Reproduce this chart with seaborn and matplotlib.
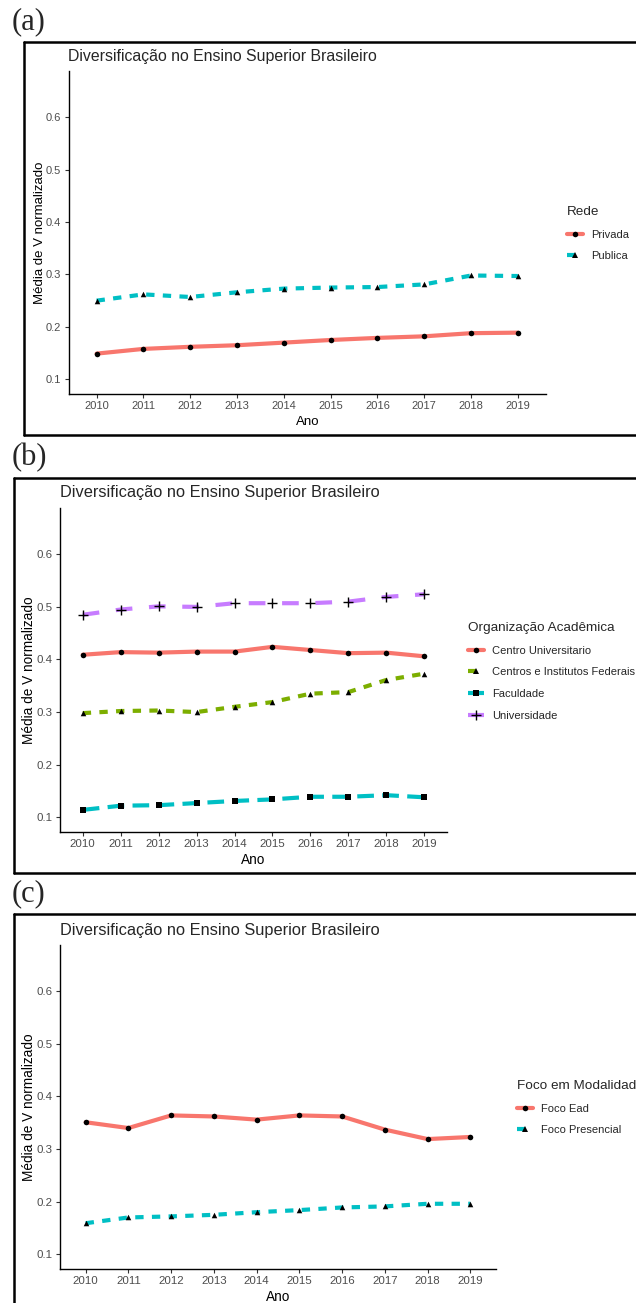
import matplotlib
matplotlib.use("Agg")
import matplotlib.pyplot as plt
import pandas as pd
import seaborn as sns
from matplotlib.lines import Line2D
from matplotlib.legend_handler import HandlerTuple

# ---------------------------------------------------------------- data
anos = [2010, 2011, 2012, 2013, 2014, 2015, 2016, 2017, 2018, 2019]

rede_categorias = ["Privada", "Publica"]
rede_privada = [0.149, 0.158, 0.162, 0.165, 0.170, 0.175, 0.179, 0.182, 0.188, 0.189]
rede_publica = [0.250, 0.262, 0.257, 0.266, 0.273, 0.275, 0.276, 0.281, 0.298, 0.297]

org_categorias = ["Centro Universitario", "Centros e Institutos Federais",
                  "Faculdade", "Universidade"]
org_centro_univ = [0.409, 0.414, 0.413, 0.415, 0.415, 0.424, 0.418, 0.412, 0.413, 0.406]
org_centros_fed = [0.298, 0.302, 0.303, 0.300, 0.310, 0.319, 0.335, 0.338, 0.361, 0.373]
org_faculdade = [0.114, 0.122, 0.123, 0.127, 0.131, 0.134, 0.139, 0.139, 0.142, 0.138]
org_universidade = [0.485, 0.495, 0.501, 0.500, 0.507, 0.507, 0.507, 0.510, 0.519, 0.524]

foco_categorias = ["Foco Ead", "Foco Presencial"]
foco_ead = [0.351, 0.340, 0.364, 0.362, 0.356, 0.364, 0.362, 0.337, 0.319, 0.323]
foco_presencial = [0.159, 0.170, 0.172, 0.175, 0.180, 0.184, 0.189, 0.191, 0.196, 0.196]

y_ticks = [0.1, 0.2, 0.3, 0.4, 0.5, 0.6]

titulo = "Diversificação no Ensino Superior Brasileiro"
rotulo_x = "Ano"
rotulo_y = "Média de V normalizado"

# ---------------------------------------------------------------- style
W, H = 636, 1303
DPI = 100
sns.set_theme(style="white")
plt.rcParams["font.family"] = ["Liberation Sans", "DejaVu Sans"]

HUE2 = ["#F8766D", "#00BFC4"]
HUE4 = ["#F8766D", "#7CAE00", "#00BFC4", "#C77CFF"]
DASHES = ["", (2, 2), (4, 2), (4, 4)]
MARKERS = ["o", "^", "s", "+"]
LW = 3.0

fig = plt.figure(figsize=(W / DPI, H / DPI), dpi=DPI)


def frac(l, t, r, b):
    return [l / W, 1 - b / H, (r - l) / W, (b - t) / H]


def long_df(categorias, series, nome):
    partes = []
    for cat, vals in zip(categorias, series):
        partes.append(pd.DataFrame({"Ano": anos, "V": vals, nome: cat}))
    return pd.concat(partes, ignore_index=True)


def moldura(bl, bt, bb):
    """Black frame around a panel (right edge runs off the page)."""
    kw = dict(transform=fig.transFigure, color="black", lw=1.8)
    fig.add_artist(Line2D([bl / W, 1.02], [1 - bt / H, 1 - bt / H], **kw))
    fig.add_artist(Line2D([bl / W, bl / W], [1 - bt / H, 1 - min(bb, H + 5) / H], **kw))
    if bb < H:
        fig.add_artist(Line2D([bl / W, 1.02], [1 - bb / H, 1 - bb / H], **kw))


def painel(box, letra, rect, df, nome, categorias, cores, leg_xy, ylab_x, k=1.0):
    l, t, r, b = rect
    bl, bt, bb = box
    moldura(bl, bt, bb)
    fig.text(12 / W, 1 - (bt - 20) / H, letra, family="Liberation Serif",
             fontsize=22, ha="left", va="center")

    ax = fig.add_axes(frac(l, t, r, b))
    n = len(categorias)
    dashes = dict(zip(categorias, DASHES[:n]))
    palette = dict(zip(categorias, cores))
    sns.lineplot(data=df, x="Ano", y="V", hue=nome, style=nome,
                 hue_order=categorias, style_order=categorias,
                 palette=palette, dashes=dashes, linewidth=LW,
                 errorbar=None, legend=False, ax=ax)
    for cat, mk in zip(categorias, MARKERS[:n]):
        sub = df[df[nome] == cat]
        if mk == "+":
            sns.scatterplot(data=sub, x="Ano", y="V", marker=mk, color="black",
                            s=55, linewidth=1.0, legend=False, ax=ax, zorder=5)
        else:
            sns.scatterplot(data=sub, x="Ano", y="V", marker=mk, color="black",
                            s=16 if mk != "s" else 14, linewidth=0,
                            legend=False, ax=ax, zorder=5)

    ax.set_xlim(2009.4, 2019.6)
    ax.set_ylim(0.072, 0.688)
    ax.set_xticks(anos)
    ax.set_xticklabels([str(a) for a in anos])
    ax.set_yticks(y_ticks)
    ax.set_yticklabels([f"{v:.1f}" for v in y_ticks])
    for side in ("top", "right"):
        ax.spines[side].set_visible(False)
    for side in ("left", "bottom"):
        ax.spines[side].set_color("black")
        ax.spines[side].set_linewidth(1.0)
    ax.tick_params(axis="both", which="major", direction="out", length=3,
                   width=0.8, color="#333333", labelcolor="#4D4D4D",
                   labelsize=8 * k, pad=2.2, bottom=True, left=True,
                   top=False, right=False)
    ax.grid(False)
    ax.set_facecolor("white")

    ax.set_xlabel(rotulo_x, fontsize=9.5 * k, color="black")
    ax.set_ylabel(rotulo_y, fontsize=9.5 * k, color="black")
    ax.xaxis.set_label_coords(0.5, -28 / (b - t))
    ax.xaxis.label.set_va("center")
    ax.yaxis.set_label_coords(-(l - ylab_x) / (r - l), 0.5)
    ax.yaxis.label.set_va("center")

    fig.text(l / W, 1 - (t - 15) / H, titulo, fontsize=11.4 * k,
             ha="left", va="center")

    handles = []
    for c, d, mk in zip(cores, DASHES[:n], MARKERS[:n]):
        if d == "":
            linha = Line2D([], [], color=c, lw=LW, ls="-")
        else:
            linha = Line2D([], [], color=c, lw=LW, dashes=d)
        if mk == "+":
            ponto = Line2D([], [], marker=mk, color="black", ls="none",
                           markersize=7.5, markeredgewidth=1.0)
        else:
            ponto = Line2D([], [], marker=mk, color="black", ls="none",
                           markersize=4, markeredgewidth=0)
        handles.append((linha, ponto))
    lx, ly = leg_xy
    fig.legend(handles, categorias, title=nome,
               handler_map={tuple: HandlerTuple(ndivide=1)},
               loc="upper left", bbox_to_anchor=(lx / W, 1 - ly / H),
               bbox_transform=fig.transFigure, frameon=False,
               fontsize=8, title_fontsize=9.7, alignment="left",
               borderpad=0, borderaxespad=0, handlelength=1.45,
               handletextpad=0.7, labelspacing=1.05)
    return ax


df_rede = long_df(rede_categorias, [rede_privada, rede_publica], "Rede")
df_org = long_df(org_categorias,
                 [org_centro_univ, org_centros_fed, org_faculdade, org_universidade],
                 "Organização Acadêmica")
df_foco = long_df(foco_categorias, [foco_ead, foco_presencial], "Foco em Modalidade")

painel((24, 42, 435), "(a)", (68.5, 71, 546, 394), df_rede, "Rede",
       rede_categorias, HUE2, (567, 206), 40)
painel((14, 478, 873), "(b)", (60, 508, 447, 832), df_org,
       "Organização Acadêmica", org_categorias, HUE4, (468, 622), 29, k=1.035)
painel((14, 914, 1400), "(c)", (60, 945, 496, 1269), df_foco,
       "Foco em Modalidade", foco_categorias, HUE2, (517, 1080), 29, k=1.035)

fig.savefig("out.png", dpi=DPI, facecolor="white")
